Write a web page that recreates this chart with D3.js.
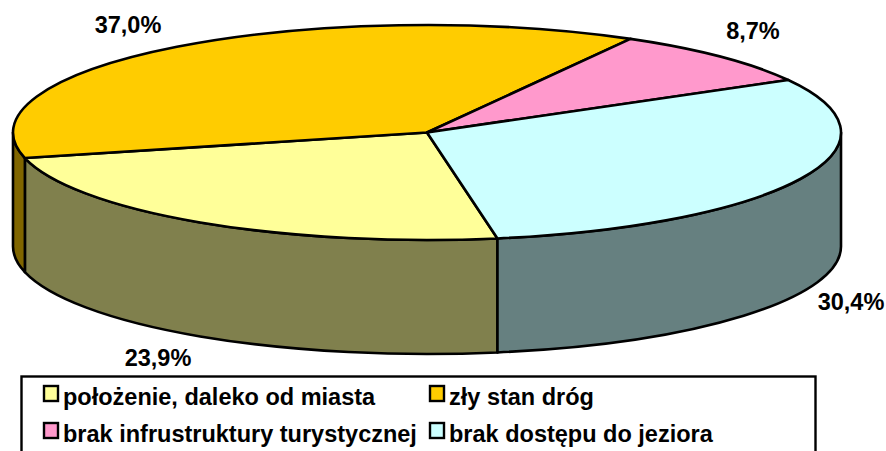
<!DOCTYPE html>
<html><head><meta charset="utf-8">
<script src="https://cdnjs.cloudflare.com/ajax/libs/d3/7.8.5/d3.min.js"></script>
<style>html,body{margin:0;padding:0;background:#fff;overflow:hidden}svg{display:block}text{font-family:"Liberation Sans",Arial,sans-serif;font-weight:bold;fill:#000}</style>
</head><body><svg id="c" width="886" height="451"></svg>
<script>
const categories=["położenie, daleko od miasta","zły stan dróg","brak infrustruktury turystycznej","brak dostępu do jeziora"];
const values=[23.9,37.0,8.7,30.4];
const valueLabels=["23,9%","37,0%","8,7%","30,4%"];
const topColors=["#ffff99","#ffcc00","#ff99cc","#ccffff"];
const sideColors=["#80804d","#806600","#804d66","#668080"];

const W=886,H=451,cx=427,cy=132.5,rx=414,ry=107.5,depth=114;
const startA=170.2*Math.PI/180;
const svg=d3.select("#c");
const slices=d3.pie().sort(null).value(d=>d).startAngle(startA).endAngle(startA+2*Math.PI)(values);
const px=a=>cx+rx*Math.sin(a), py=a=>cy-ry*Math.cos(a);
const arcTo=(a0,a1,dy,sweep)=>`A${rx},${ry} 0 ${Math.abs(a1-a0)>Math.PI?1:0} ${sweep} ${px(a1)},${py(a1)+dy}`;

// side walls: the visible range is the front half (90deg to 270deg, repeated by +360)
const lo=Math.PI/2,hi=3*Math.PI/2;
const walls=[];
slices.forEach((s,i)=>{
  [0,2*Math.PI].forEach(off=>{
    const a0=Math.max(s.startAngle,lo+off),a1=Math.min(s.endAngle,hi+off);
    if(a1>a0) walls.push({i,a0,a1});
  });
});
svg.append("g").selectAll("path").data(walls).join("path")
  .attr("d",d=>`M${px(d.a0)},${py(d.a0)}${arcTo(d.a0,d.a1,0,1)}L${px(d.a1)},${py(d.a1)+depth}${arcTo(d.a1,d.a0,depth,0)}Z`)
  .attr("fill",d=>sideColors[d.i]).attr("stroke","#000").attr("stroke-width",2.6).attr("stroke-linejoin","round");

// top face
svg.append("g").selectAll("path").data(slices).join("path")
  .attr("d",s=>`M${cx},${cy}L${px(s.startAngle)},${py(s.startAngle)}${arcTo(s.startAngle,s.endAngle,0,1)}Z`)
  .attr("fill",(s,i)=>topColors[i]).attr("stroke","#000").attr("stroke-width",2.6).attr("stroke-linejoin","round");

// value labels
const labelPos=[[158,358],[128,25],[753,31],[851,302]];
svg.append("g").selectAll("text").data(valueLabels).join("text")
  .attr("x",(d,i)=>labelPos[i][0]).attr("y",(d,i)=>labelPos[i][1]).attr("dy","0.35em")
  .attr("text-anchor","middle").attr("font-size",23.5).text(d=>d);

// legend
svg.append("rect").attr("x",21.5).attr("y",376.5).attr("width",794).attr("height",90)
  .attr("fill","#fff").attr("stroke","#000").attr("stroke-width",2.4);
const legPos=[[44,386],[430,386],[44,423],[430,423]];
const lg=svg.append("g").selectAll("g").data(categories).join("g");
lg.append("rect").attr("x",(d,i)=>legPos[i][0]).attr("y",(d,i)=>legPos[i][1]).attr("width",14).attr("height",15)
  .attr("fill",(d,i)=>topColors[i]).attr("stroke","#000").attr("stroke-width",2.4);
lg.append("text").attr("x",(d,i)=>legPos[i][0]+19).attr("y",(d,i)=>legPos[i][1]+10.5).attr("dy","0.35em")
  .attr("font-size",23.5).text(d=>d);
</script></body></html>
